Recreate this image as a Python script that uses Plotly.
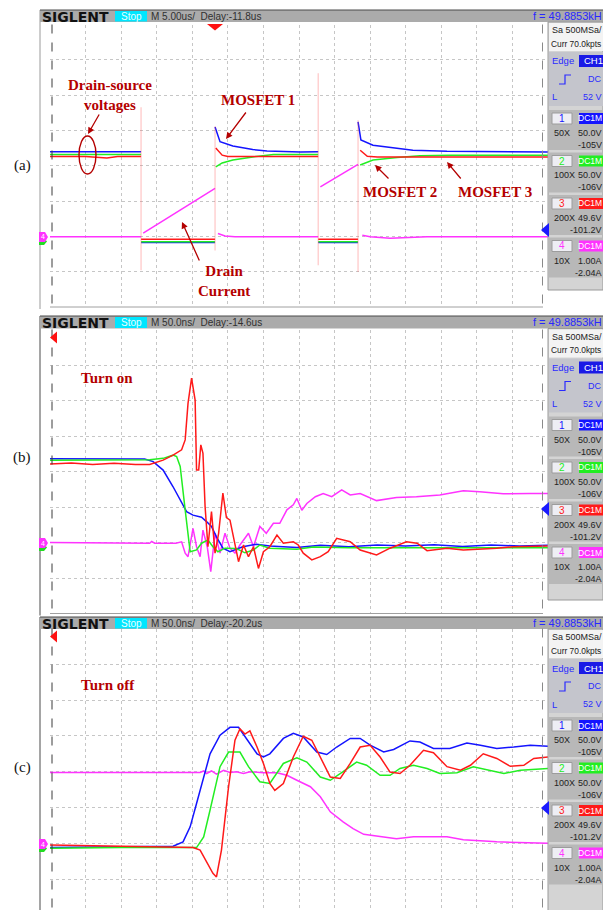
import plotly.graph_objects as go

W, H = 603, 910

# ---------------- waveform data: time, vertical position in divisions ----------------
# (a) 5 us/div, switching period overview
A_T_CH1 = [0, 6, 9, 12.8, None, 12.8, 18, 23.2, None, 23.2, 23.9, 25.7, 28.5, 30.5, 35.2, 37.7,
           None, 37.7, 43.3, None, 43.3, 43.7, 45.4, 47.8, 51.0, 55.8, 70]
A_V_CH1 = [0.40, 0.40, 0.39, 0.40, None, -2.17, -2.17, -2.17, None, 1.10, 0.68, 0.56, 0.46, 0.42, 0.39, 0.40,
           None, -2.17, -2.17, None, 1.24, 0.73, 0.58, 0.52, 0.44, 0.41, 0.39]
A_T_CH2 = [0, 12.8, None, 12.8, 23.2, None, 23.3, 24.2, 25.7, 28.5, 31.4, 37.7, None, 37.7, 43.3,
           None, 43.6, 45.4, 48.8, 52.0, 56.2, 70]
A_V_CH2 = [0.32, 0.32, None, -2.15, -2.15, None, -0.03, 0.08, 0.16, 0.25, 0.32, 0.32, None, -2.15, -2.15,
           None, 0.02, 0.16, 0.235, 0.28, 0.30, 0.30]
A_T_CH3 = [0, 5, 8, 9.5, 12.8, None, 12.8, 23.2, None, 23.3, 24.2, 25, 37.7, None, 37.7, 43.3,
           None, 43.6, 44.6, 46, 70]
A_V_CH3 = [0.26, 0.26, 0.22, 0.26, 0.26, None, -2.08, -2.08, None, 0.50, 0.30, 0.26, 0.26, None, -2.08, -2.08,
           None, 0.44, 0.27, 0.25, 0.25]
A_T_CH4 = [0, 12.8, None, 13.1, 23.2, None, 23.6, 24.6, 26, 37.7, None, 38.0, 43.3,
           None, 43.9, 45.0, 47.8, 50.6, 53, 70]
A_V_CH4 = [-2.01, -2.01, None, -1.91, -0.64, None, -1.92, -1.99, -2.01, -2.01, None, -0.60, 0.04,
           None, -1.97, -2.01, -2.05, -2.02, -2.01, -2.01]
# fast switching edges, drawn faint
A_EDGE_T = [12.8, 23.2, 37.7, 43.3]
A_EDGE_TOP = [1.66, 1.12, 2.62, 1.29]
A_EDGE_BOT = [-2.96, -2.40, -2.82, -3.01]

# (b) 50 ns/div, turn on
B_T_CH1 = [0, 133, 145, 159, 173, 185, 192, 201, 213, 220, 227, 234, 243, 253, 271, 290, 309, 347,
           380, 420, 460, 500, 540, 580, 620, 660, 700]
B_V_CH1 = [0.36, 0.35, 0.28, 0.04, -0.43, -0.85, -1.13, -1.23, -1.29, -1.41, -1.55, -1.84, -2.16, -2.26,
           -2.12, -2.05, -2.10, -2.14, -2.08, -2.12, -2.07, -2.10, -2.06, -2.11, -2.07, -2.10, -2.08]
B_T_CH2 = [0, 140, 159, 173, 178, 183, 190, 197, 206, 213, 222, 229, 236, 246, 262, 274, 286, 295,
           309, 347, 370, 420, 500, 600, 700]
B_V_CH2 = [0.32, 0.33, 0.37, 0.46, 0.42, 0.14, -1.08, -2.26, -2.21, -2.02, -1.93, -2.12, -2.26, -2.16,
           -2.17, -2.29, -2.21, -2.07, -2.16, -2.19, -2.13, -2.15, -2.15, -2.16, -2.15]
B_T_CH3 = [0, 30, 60, 90, 120, 140, 159, 173, 185, 190, 194, 199, 204, 206, 209, 212, 215, 218, 222, 227,
           232, 237, 243, 248, 253, 258, 265, 272, 279, 286, 293, 300, 309, 319, 328, 342, 349, 356, 368, 380,
           391, 403, 422, 436, 459, 478, 501, 516, 530, 558, 581, 628, 651, 700]
B_V_CH3 = [0.21, 0.24, 0.20, 0.23, 0.20, 0.20, 0.32, 0.46, 0.61, 0.89, 1.92, 2.63, 2.01, 0.04, 0.04, 0.75,
           0.51, -0.99, -2.12, -1.13, -2.30, -1.74, -0.61, -1.30, -1.37, -1.84, -2.54, -2.07, -2.40, -2.12,
           -2.73, -2.26, -2.12, -1.79, -2.02, -1.98, -2.07, -2.30, -2.49, -2.40, -2.26, -1.88, -1.98, -2.21,
           -2.35, -2.16, -1.98, -2.02, -2.23, -2.16, -2.21, -2.16, -2.12, -2.10]
B_T_CH4 = [0, 140, 143, 147, 177, 185, 190, 194, 201, 206, 211, 215, 221, 226, 232, 239, 246, 253, 260, 267,
           279, 286, 295, 304, 314, 323, 333, 342, 347, 354, 361, 373, 384, 396, 410, 422, 436, 459, 487, 515,
           548, 581, 604, 637, 675, 700]
B_V_CH4 = [-2.00, -2.02, -1.97, -2.02, -2.02, -1.98, -2.30, -2.40, -1.60, -2.12, -2.40, -1.65, -2.12, -2.82,
           -1.74, -2.30, -1.74, -2.16, -2.30, -2.07, -1.74, -2.12, -1.55, -1.74, -1.46, -1.46, -1.08, -0.94,
           -0.76, -1.09, -0.90, -0.71, -0.62, -0.71, -0.52, -0.66, -0.62, -0.82, -0.73, -0.71, -0.66, -0.54,
           -0.57, -0.63, -0.62, -0.62]

# (c) 50 ns/div, turn off
C_T_CH1 = [0, 173, 187, 197, 206, 216, 225, 239, 253, 265, 276, 291, 300, 309, 328, 342, 356, 375, 389, 403,
           422, 436, 450, 469, 483, 506, 520, 539, 562, 586, 605, 628, 652, 675, 700]
C_V_CH1 = [-2.12, -2.08, -1.96, -1.54, -0.89, -0.15, 0.50, 1.02, 1.24, 1.24, 0.93, 0.50, 0.41, 0.50, 0.93,
           1.07, 0.97, 0.55, 0.48, 0.69, 0.93, 0.93, 0.74, 0.55, 0.62, 0.86, 0.83, 0.65, 0.65, 0.80, 0.74,
           0.65, 0.69, 0.74, 0.71]
C_T_CH2 = [0, 100, 206, 216, 225, 232, 239, 251, 267, 279, 295, 309, 328, 347, 361, 380, 394, 412, 431, 445,
           464, 478, 492, 511, 530, 548, 572, 595, 619, 638, 661, 700]
C_V_CH2 = [-2.14, -2.12, -2.12, -1.82, -1.07, -0.42, 0.14, 0.55, 0.55, 0.14, -0.28, -0.33, 0.23, 0.39, 0.27,
           -0.15, -0.24, 0.00, 0.27, 0.18, -0.10, -0.10, 0.09, 0.18, 0.09, -0.05, -0.03, 0.14, 0.04, -0.05,
           0.04, 0.09]
C_T_CH3 = [0, 100, 201, 211, 220, 229, 234, 241, 251, 260, 267, 274, 281, 291, 300, 309, 316, 328, 342, 356,
           368, 380, 394, 408, 422, 436, 450, 464, 478, 492, 506, 525, 539, 558, 577, 591, 609, 628, 647, 666,
           680, 700]
C_V_CH3 = [-2.05, -2.08, -2.12, -2.19, -2.52, -2.84, -2.94, -2.19, -0.42, 0.88, 1.20, 1.05, 1.14, 0.69, 0.23,
           -0.33, -0.52, -0.33, 0.41, 0.99, 0.88, 0.41, -0.15, -0.19, 0.23, 0.69, 0.74, 0.41, -0.01, -0.05,
           0.18, 0.60, 0.53, 0.14, 0.04, 0.18, 0.50, 0.37, 0.15, 0.18, 0.37, 0.41]
C_T_CH4 = [0, 211, 216, 220, 227, 234, 244, 253, 262, 272, 281, 300, 319, 333, 347, 366, 380, 394, 412, 426,
           441, 464, 487, 511, 558, 581, 628, 700]
C_V_CH4 = [-0.02, -0.02, 0.02, -0.05, 0.02, -0.07, 0.04, -0.02, 0.00, -0.05, 0.00, -0.03, -0.03, -0.10,
           -0.24, -0.42, -0.70, -1.12, -1.40, -1.59, -1.75, -1.82, -1.87, -1.82, -1.82, -1.90, -1.96, -2.00]

# ---------------- channel settings shown in the side panel ----------------
CH_NAMES = ["1", "2", "3", "4"]
CH_COLORS = ["#1414ff", "#22ee22", "#ff1a1a", "#ff33ff"]
CH_PROBE = ["50X", "100X", "200X", "10X"]
CH_SCALE = ["50.0V", "50.0V", "49.6V", "1.00A"]
CH_OFFSET = ["-105V", "-106V", "-101.2V", "-2.04A"]

DARK_RED = "#b40000"
EDGE_R = 602.5


def X(p):
    return p / W


def Y(p):
    return 1 - p / H


PANELS = [
    dict(x="x", y="y", hdr=(10, 22), grid=(24.5, 307), yr=[-4, 4], xr=[0, 70], dt=5,
         side_bottom=290, label="(a)", label_y=165, tb="M 5.00us/", delay="Delay:-11.8us",
         trig_level=230, gnd=237, frame="#9a9a9a",
         data=[(A_T_CH1, A_V_CH1), (A_T_CH2, A_V_CH2), (A_T_CH3, A_V_CH3), (A_T_CH4, A_V_CH4)]),
    dict(x="x2", y="y2", hdr=(316, 328.5), grid=(329.5, 613.5), yr=[-4, 4], xr=[0, 700], dt=50,
         side_bottom=600, label="(b)", label_y=457, tb="M 50.0ns/", delay="Delay:-14.6us",
         trig_level=509, gnd=543, frame="#4a4a4a",
         data=[(B_T_CH1, B_V_CH1), (B_T_CH2, B_V_CH2), (B_T_CH3, B_V_CH3), (B_T_CH4, B_V_CH4)]),
    dict(x="x3", y="y3", hdr=(617, 629), grid=(628.5, 910), yr=[4 - (910 - 628.5) / 35.8, 4], xr=[0, 700],
         dt=50, side_bottom=915, label="(c)", label_y=767, tb="M 50.0ns/", delay="Delay:-20.2us",
         trig_level=808, gnd=844, frame="#4a4a4a",
         data=[(C_T_CH1, C_V_CH1), (C_T_CH2, C_V_CH2), (C_T_CH3, C_V_CH3), (C_T_CH4, C_V_CH4)]),
]
TRACE_ORDER = [3, 0, 1, 2]  # magenta drawn first, red on top

fig = go.Figure()
shapes = []
annos = []


def rect(x0, y0, x1, y1, fill, line=None, lw=1):
    shapes.append(dict(type="rect", xref="paper", yref="paper", x0=X(x0), x1=X(x1), y0=Y(y1), y1=Y(y0),
                       fillcolor=fill, layer="above",
                       line=dict(width=0) if line is None else dict(color=line, width=lw)))


def seg(x0, y0, x1, y1, color, width=1, dash="solid"):
    shapes.append(dict(type="line", xref="paper", yref="paper", x0=X(x0), x1=X(x1), y0=Y(y0), y1=Y(y1),
                       layer="above", line=dict(color=color, width=width, dash=dash)))


def poly(pts, fill):
    path = "M " + " L ".join(f"{X(a):.5f},{Y(b):.5f}" for a, b in pts) + " Z"
    shapes.append(dict(type="path", xref="paper", yref="paper", path=path, fillcolor=fill,
                       line=dict(width=0), layer="above"))


def text(x, y, s, size, color, anchor="left", family="Liberation Sans"):
    annos.append(dict(xref="paper", yref="paper", x=X(x), y=Y(y), text=s, showarrow=False,
                      xanchor=anchor, yanchor="middle", borderpad=0,
                      font=dict(family=family, size=size, color=color)))


def side_panel(hb, bottom):
    rect(548, hb, 603, bottom, "#d4d4d4", line="#9a9a9a")
    rect(549, hb + 1, 603, hb + 29, "#f3f3f3")
    text(551, hb + 8, "Sa 500MSa/", 9, "#222222")
    text(550, hb + 22, "Curr 70.0kpts", 8.4, "#222222")
    rect(549, hb + 30, 603, hb + 84, "#c4c5cc")
    text(551, hb + 39, "Edge", 9.5, "#2a2aff")
    rect(579, hb + 33, 612, hb + 45, "#1a1ae6")
    text(583, hb + 39, "CH1", 9.5, "#ffffff")
    shapes.append(dict(type="path", xref="paper", yref="paper", layer="above",
                       path=(f"M {X(559)},{Y(hb + 62)} L {X(565)},{Y(hb + 62)} L {X(565)},{Y(hb + 53)} "
                             f"L {X(571)},{Y(hb + 53)}"),
                       line=dict(color="#2a2aff", width=1.2)))
    text(EDGE_R, hb + 57, "DC", 9, "#2a2aff", anchor="right")
    text(551, hb + 75, "L", 9.5, "#2a2aff")
    text(EDGE_R, hb + 75, "52 V", 9, "#2a2aff", anchor="right")
    for i in range(4):
        top = hb + 88 + i * 42.5
        rect(549, top, 603, top + 40, "#b8b8b8")
        rect(552, top + 3, 572, top + 14, "#eeeef4", line="#9c9c9c")
        text(562, top + 8.5, CH_NAMES[i], 10, CH_COLORS[i], anchor="center")
        rect(579, top + 3, 612, top + 14, CH_COLORS[i])
        text(EDGE_R, top + 8.5, "DC1M", 8.5, "#ffffff", anchor="right")
        text(553, top + 23, CH_PROBE[i], 9, "#222222")
        text(EDGE_R, top + 23, CH_SCALE[i], 9, "#222222", anchor="right")
        text(EDGE_R, top + 35, CH_OFFSET[i], 9, "#222222", anchor="right")


for k, p in enumerate(PANELS):
    top, bot = p["grid"]
    sfx = "" if k == 0 else str(k + 1)
    axis_common = dict(showgrid=True, gridcolor="#c6c6c6", griddash="dot", gridwidth=1,
                       showticklabels=False, ticks="", zeroline=False, showline=False, fixedrange=True)
    fig.update_layout(**{
        "xaxis" + sfx: dict(domain=[X(50), X(548)], range=p["xr"], dtick=p["dt"], tick0=0,
                            anchor="y" + sfx, **axis_common),
        "yaxis" + sfx: dict(domain=[Y(bot), Y(top)], range=p["yr"], dtick=1, tick0=0,
                            anchor="x" + sfx, **axis_common),
    })

    # waveforms
    for ci in TRACE_ORDER:
        t, v = p["data"][ci]
        fig.add_trace(go.Scatter(x=t, y=v, mode="lines", xaxis=p["x"], yaxis=p["y"],
                                 line=dict(color=CH_COLORS[ci], width=1.5), hoverinfo="skip",
                                 showlegend=False))

    # frame, header bar
    h0, h1 = p["hdr"]
    seg(40, h0, 40, min(bot + 2, 910), p["frame"], 1)
    rect(40, h0, 603, h1, "#ababab")
    seg(40, h0, 603, h0, "#4a4a4a", 1)
    text(41, (h0 + h1) / 2 + 0.5, "<b>SIGLENT</b>", 14, "#111111", family="DejaVu Sans")
    rect(115, h0 + 1, 147, h1 - 0.5, "#00e6ff")
    text(131, (h0 + h1) / 2, "Stop", 10, "#e8ffff", anchor="center")
    text(150, (h0 + h1) / 2, p["tb"] + "  " + p["delay"], 10, "#303030")
    text(EDGE_R, (h0 + h1) / 2, "f = 49.8853kH", 11, "#2828ff", anchor="right")

    # dashed display limits and grid bottom
    seg(52, top, 52, min(bot, 910), "#3a3a3a", 1, "dash")
    seg(542.5, top, 542.5, min(bot, 910), "#8a8a8a", 1, "dash")
    if bot < 910:
        seg(50, bot, 543, bot, "#a0a0a0", 1)

    side_panel(h1, p["side_bottom"])

    # trigger position and level markers
    if k == 0:
        poly([(207, top - 0.5), (223, top - 0.5), (215, top + 6)], "#ff1010")
    else:
        poly([(50, top + 8), (57, top + 2), (57, top + 14)], "#ff1010")
    tl = p["trig_level"]
    poly([(541, tl), (549, tl - 7), (549, tl + 7)], "#1a1aff")

    # channel ground markers
    g = p["gnd"]
    poly([(39, g + 1), (44, g + 1), (47, g + 4.5), (44, g + 8), (39, g + 8)], "#22dd22")
    poly([(39, g - 5), (45, g - 5), (48, g), (45, g + 5), (39, g + 5)], "#ff33ff")
    text(42.5, g, "4", 7, "#ffffff", anchor="center")

    text(22, p["label_y"], p["label"], 15, "#111111", anchor="center", family="Liberation Serif")

# faint switching edges in (a)
EDGE_X, EDGE_Y = [], []
for t, a, b in zip(A_EDGE_T, A_EDGE_TOP, A_EDGE_BOT):
    EDGE_X += [t, t, None]
    EDGE_Y += [a, b, None]
fig.add_trace(go.Scatter(x=EDGE_X, y=EDGE_Y, mode="lines", xaxis="x", yaxis="y",
                         line=dict(color="rgba(255,90,90,0.35)", width=1.2), hoverinfo="skip",
                         showlegend=False))

# annotation texts and arrows
BOLD = dict(family="Liberation Serif", size=15, color=DARK_RED)
for s, x, y in [("Drain-source<br>voltages", 110, 95), ("MOSFET 1", 258, 100), ("Drain<br>Current", 224, 281),
                ("MOSFET 2", 400, 192), ("MOSFET 3", 495, 192), ("Turn on", 107, 378),
                ("Turn off", 108, 685)]:
    annos.append(dict(xref="paper", yref="paper", x=X(x), y=Y(y), text="<b>" + s + "</b>", showarrow=False,
                      xanchor="center", yanchor="middle", font=BOLD))
for (hx, hy), (tx, ty) in [((88, 134), (100, 113)), ((226, 139), (247, 111)), ((182, 222), (200, 262)),
                           ((375, 165), (390, 180)), ((447, 162), (462, 180))]:
    annos.append(dict(xref="paper", yref="paper", x=X(hx), y=Y(hy), ax=tx - hx, ay=ty - hy, text="",
                      showarrow=True, arrowhead=2, arrowsize=1, arrowwidth=1.3, arrowcolor=DARK_RED))
shapes.append(dict(type="circle", xref="paper", yref="paper", x0=X(79), x1=X(96), y0=Y(174), y1=Y(136),
                   line=dict(color=DARK_RED, width=1.4), layer="above"))

fig.update_layout(width=W, height=H, margin=dict(l=0, r=0, t=0, b=0), paper_bgcolor="white",
                  plot_bgcolor="rgba(0,0,0,0)", shapes=shapes, annotations=annos, showlegend=False)

fig.write_html("out.html")
